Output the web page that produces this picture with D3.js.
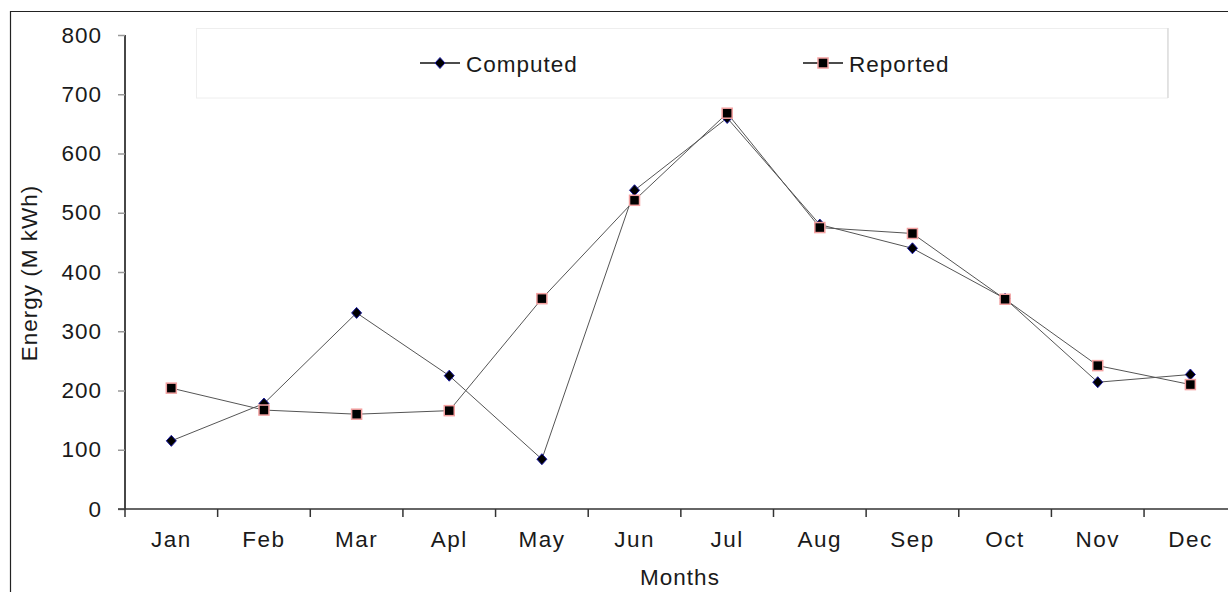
<!DOCTYPE html>
<html><head><meta charset="utf-8">
<script src="https://cdn.jsdelivr.net/npm/d3@7"></script>
<style>body{margin:0;background:#fff}svg{display:block}text{font-family:"Liberation Sans",Arial,sans-serif;fill:#1a1a1a}</style>
</head><body><svg id="c" width="1228" height="592"></svg>
<script>
const months = ["Jan","Feb","Mar","Apl","May","Jun","Jul","Aug","Sep","Oct","Nov","Dec"];
const computed = [115,178,331,225,84,538,660,480,440,355,214,227];
const reported = [204,167,160,166,355,521,668,475,465,354,242,210];
const yTicks = [0,100,200,300,400,500,600,700,800];
const seriesNames = ["Computed","Reported"];

const svg = d3.select("#c");
const x = d3.scaleBand().domain(months).range([125, 1236.7]).padding(0);
const y = d3.scaleLinear().domain([0, 800]).range([509, 35]);
const fs = "22.5px";

// outer border (top & left visible)
svg.append("path").attr("d","M10.5,592 V11.5 H1228").attr("fill","none").attr("stroke","#222").attr("stroke-width",1.2);

// legend box
svg.append("rect").attr("x",196.5).attr("y",28.5).attr("width",971).attr("height",69.5)
  .attr("fill","#fff").attr("stroke","#eee").attr("stroke-width",1);
svg.append("line").attr("x1",1168).attr("x2",1168).attr("y1",28).attr("y2",98).attr("stroke","#ddd").attr("stroke-width",1.5);

// y axis
const ya = svg.append("g").attr("transform","translate(125,0)")
  .call(d3.axisLeft(y).tickValues(yTicks).tickSize(7).tickPadding(16).tickFormat(d3.format("d")));
ya.select(".domain").attr("stroke","#333").attr("stroke-width",1.8).attr("d","M0,35V509");
ya.selectAll(".tick line").attr("stroke","#999").attr("stroke-width",1.5);
ya.selectAll(".tick text").style("font-size",fs).style("letter-spacing","1px").attr("fill","#1a1a1a");

// x axis
const xa = svg.append("g").attr("transform","translate(0,509)")
  .call(d3.axisBottom(x).tickSize(0).tickPadding(22));
xa.select(".domain").attr("stroke","#333").attr("stroke-width",1.6).attr("d","M118,0H1228");
xa.selectAll(".tick text").style("font-size",fs).style("letter-spacing","1.5px").attr("fill","#1a1a1a");
xa.selectAll(".bt").data(months).enter().append("line").attr("class","bt")
  .attr("x1",d=>x(d)).attr("x2",d=>x(d)).attr("y1",0).attr("y2",8)
  .attr("stroke","#333").attr("stroke-width",1.5);

// axis titles
svg.append("text").attr("x",680).attr("y",585).attr("text-anchor","middle").style("font-size",fs).style("letter-spacing","1px").text("Months");
svg.append("text").attr("transform","translate(37,273) rotate(-90)").attr("text-anchor","middle").style("font-size",fs).style("letter-spacing","1px").text("Energy (M kWh)");

// lines
const cx = d => x(d) + x.bandwidth()/2;
const line = d3.line().x(d=>cx(d.m)).y(d=>y(d.v));
const cData = months.map((m,i)=>({m, v:computed[i]}));
const rData = months.map((m,i)=>({m, v:reported[i]}));
svg.append("path").datum(cData).attr("d",line).attr("fill","none").attr("stroke","#555").attr("stroke-width",1);
svg.append("path").datum(rData).attr("d",line).attr("fill","none").attr("stroke","#555").attr("stroke-width",1);

function drawDiamond(g, px, py){
  g.append("path").attr("d","M0,-5.5L5,0L0,5.5L-5,0Z").attr("transform",`translate(${px},${py})`)
   .attr("fill","#000").attr("stroke","#1a1aa0").attr("stroke-width",1);
}
function drawSquare(g, px, py){
  g.append("rect").attr("x",px-5).attr("y",py-5).attr("width",10).attr("height",10)
   .attr("fill","#000").attr("stroke","#f3a0a0").attr("stroke-width",1.5);
}
const mg = svg.append("g");
cData.forEach(d=>drawDiamond(mg, cx(d.m), y(d.v)));
rData.forEach(d=>drawSquare(mg, cx(d.m), y(d.v)));

// legend entries
const legend = [{name:seriesNames[0], x0:420, type:"d"},{name:seriesNames[1], x0:803, type:"s"}];
legend.forEach(l=>{
  svg.append("line").attr("x1",l.x0).attr("x2",l.x0+40).attr("y1",63).attr("y2",63).attr("stroke","#111").attr("stroke-width",1.5);
  if(l.type==="d") drawDiamond(svg, l.x0+20, 63); else drawSquare(svg, l.x0+20, 63);
  svg.append("text").attr("x",l.x0+46).attr("y",72).style("font-size",fs).style("letter-spacing","1px").text(l.name);
});
</script></body></html>
